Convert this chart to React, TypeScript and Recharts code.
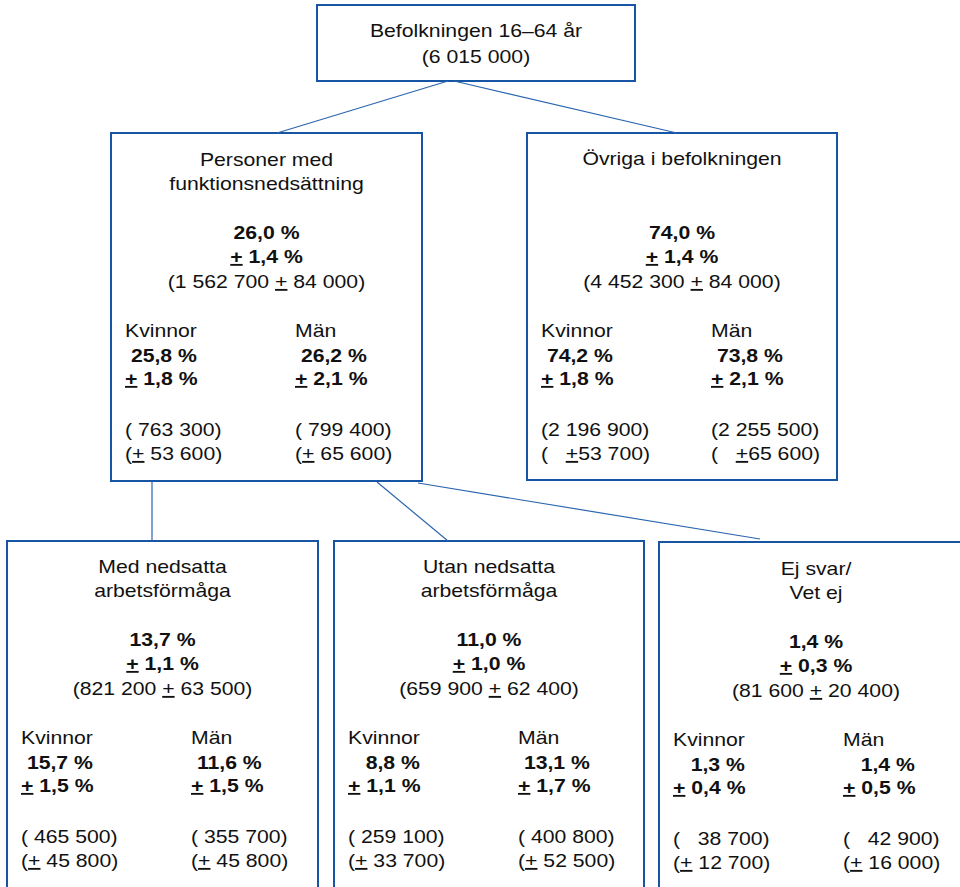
import React from "react";
import { ScatterChart, Scatter, XAxis, YAxis, ReferenceArea, ReferenceLine } from "recharts";

const W = 960;
const H = 887;

// ---- data ----
const groupTitles: string[][] = [
  ["Befolkningen 16–64 år"],
  ["Personer med", "funktionsnedsättning"],
  ["Övriga i befolkningen"],
  ["Med nedsatta", "arbetsförmåga"],
  ["Utan nedsatta", "arbetsförmåga"],
  ["Ej svar/", "Vet ej"],
];
const totalShare = ["", "26,0 %", "74,0 %", "13,7 %", "11,0 %", "1,4 %"];
const totalShareMargin = ["", "1,4 %", "1,4 %", "1,1 %", "1,0 %", "0,3 %"];
const totalCount = ["6 015 000", "1 562 700", "4 452 300", "821 200", "659 900", "81 600"];
const totalCountMargin = ["", "84 000", "84 000", "63 500", "62 400", "20 400"];

const genderLabels = ["Kvinnor", "Män"];
const womenShare = ["", "25,8 %", "74,2 %", "15,7 %", "8,8 %", "1,3 %"];
const womenShareMargin = ["", "1,8 %", "1,8 %", "1,5 %", "1,1 %", "0,4 %"];
const womenCount = ["", "763 300", "2 196 900", "465 500", "259 100", "38 700"];
const womenCountMargin = ["", "53 600", "53 700", "45 800", "33 700", "12 700"];
const menShare = ["", "26,2 %", "73,8 %", "11,6 %", "13,1 %", "1,4 %"];
const menShareMargin = ["", "2,1 %", "2,1 %", "1,5 %", "1,7 %", "0,5 %"];
const menCount = ["", "799 400", "2 255 500", "355 700", "400 800", "42 900"];
const menCountMargin = ["", "65 600", "65 600", "45 800", "52 500", "16 000"];

// parent index of each node (tree structure)
const parentOf = [-1, 0, 0, 1, 1, 1];

// ---- layout (diagram units) ----
const boxLayout = [
  { x1: 317, x2: 635, y1: 5, y2: 81 },
  { x1: 111, x2: 422, y1: 133, y2: 481 },
  { x1: 527, x2: 837, y1: 133, y2: 480 },
  { x1: 7, x2: 318, y1: 541, y2: 905 },
  { x1: 334, x2: 644, y1: 541, y2: 905 },
  { x1: 659, x2: 973, y1: 542, y2: 905 },
];
const textTop = [0, 133, 133, 540, 540, 542];
const connectorFrom = [null, { x: 448, y: 81 }, { x: 454, y: 81 }, { x: 152, y: 481 }, { x: 377, y: 482 }, { x: 418, y: 483 }];
const connectorTo = [null, { x: 277, y: 133 }, { x: 677, y: 133 }, { x: 152, y: 541 }, { x: 448, y: 541 }, { x: 760, y: 539 }];

const rowOffsets = [33, 57, 106, 130, 155, 204, 229, 252, 303, 327];

const BLUE = "#1654A4";
const LINE_BLUE = "#2B66AE";
const FONT = "'Liberation Sans', Arial, sans-serif";

type Line = { x: number; y: number; text: string; bold: boolean; anchor: "start" | "middle" };

const sharePad = (s: string) => (s.length < 6 ? "   " : " ");
const countPad = (s: string) => (s.length >= 9 ? "" : s.length >= 7 ? " " : "   ");
const marginText = (count: string, m: string) => (count.length >= 9 ? "(   ±" + m + ")" : "(± " + m + ")");

const lines: Line[] = [];
boxLayout.forEach((b, i) => {
  const cx = (b.x1 + b.x2) / 2;
  if (i === 0) {
    lines.push({ x: cx, y: 37, text: groupTitles[0][0], bold: false, anchor: "middle" });
    lines.push({ x: cx, y: 63, text: "(" + totalCount[0] + ")", bold: false, anchor: "middle" });
    return;
  }
  const T = textTop[i];
  groupTitles[i].forEach((t, k) => {
    lines.push({ x: cx, y: T + rowOffsets[k] - (groupTitles[i].length === 1 ? 1 : 0), text: t, bold: false, anchor: "middle" });
  });
  lines.push({ x: cx, y: T + rowOffsets[2], text: totalShare[i], bold: true, anchor: "middle" });
  lines.push({ x: cx, y: T + rowOffsets[3], text: "± " + totalShareMargin[i], bold: true, anchor: "middle" });
  lines.push({ x: cx, y: T + rowOffsets[4], text: "(" + totalCount[i] + " ± " + totalCountMargin[i] + ")", bold: false, anchor: "middle" });
  const cols = [
    { x: b.x1 + 14, share: womenShare[i], sm: womenShareMargin[i], count: womenCount[i], cm: womenCountMargin[i] },
    { x: b.x1 + 184, share: menShare[i], sm: menShareMargin[i], count: menCount[i], cm: menCountMargin[i] },
  ];
  cols.forEach((c, k) => {
    lines.push({ x: c.x, y: T + rowOffsets[5], text: genderLabels[k], bold: false, anchor: "start" });
    lines.push({ x: c.x, y: T + rowOffsets[6], text: sharePad(c.share) + c.share, bold: true, anchor: "start" });
    lines.push({ x: c.x, y: T + rowOffsets[7], text: "± " + c.sm, bold: true, anchor: "start" });
    lines.push({ x: c.x, y: T + rowOffsets[8], text: "(" + countPad(c.count) + c.count + ")", bold: false, anchor: "start" });
    lines.push({ x: c.x, y: T + rowOffsets[9], text: marginText(c.count, c.cm), bold: false, anchor: "start" });
  });
});

const TextMark = (props: any) => {
  const { cx, cy, payload } = props;
  if (cx == null || cy == null || !payload) return null;
  const parts = String(payload.text).split("±");
  const children: React.ReactNode[] = [];
  parts.forEach((p, k) => {
    if (k > 0) {
      children.push(
        <tspan key={"u" + k} style={{ textDecoration: "underline" }} textDecoration="underline">
          +
        </tspan>
      );
    }
    if (p.length) children.push(<tspan key={"t" + k}>{p}</tspan>);
  });
  return (
    <text
      x={0}
      y={0}
      transform={`translate(${cx},${cy}) scale(1.14,1)`}
      textAnchor={payload.anchor}
      fontFamily={FONT}
      fontSize={18.6}
      fontWeight={payload.bold ? "bold" : "normal"}
      fill="#111"
      xmlSpace="preserve"
      style={{ whiteSpace: "pre" }}
    >
      {children}
    </text>
  );
};

export default function App() {
  return (
    <div style={{ position: "absolute", left: 0, top: 0, width: W, height: H, background: "#fff" }}>
      <ScatterChart width={W} height={H} margin={{ top: 0, right: 0, bottom: 0, left: 0 }}>
        <XAxis type="number" dataKey="x" domain={[0, W]} hide allowDataOverflow />
        <YAxis type="number" dataKey="y" domain={[0, H]} reversed hide allowDataOverflow />
        {parentOf.map((p, i) =>
          p < 0 ? null : (
            <ReferenceLine
              key={"c" + i}
              segment={[connectorFrom[i] as any, connectorTo[i] as any]}
              stroke={LINE_BLUE}
              strokeWidth={1.2}
              ifOverflow="visible"
            />
          )
        )}
        {boxLayout.map((b, i) => (
          <ReferenceArea
            key={"b" + i}
            x1={b.x1}
            x2={b.x2}
            y1={b.y1}
            y2={b.y2}
            fill="#fff"
            fillOpacity={0}
            stroke={BLUE}
            strokeWidth={2}
            ifOverflow="visible"
          />
        ))}
        <Scatter data={lines} shape={TextMark} isAnimationActive={false} />
      </ScatterChart>
    </div>
  );
}
